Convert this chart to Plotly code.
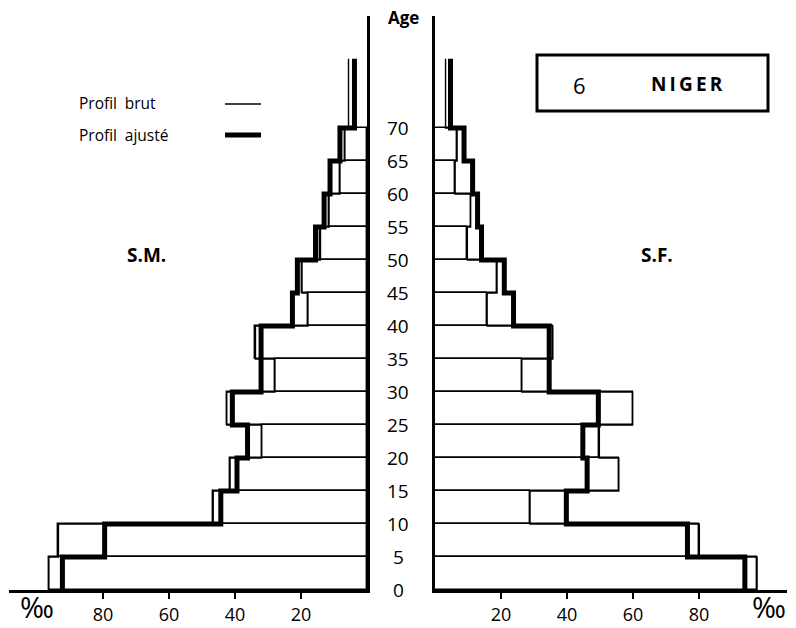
import plotly.graph_objects as go

# ---------------- data ----------------
age_start = [0, 5, 10, 15, 20, 25, 30, 35, 40, 45, 50, 55, 60, 65, 70]
age_top = 80.5            # drawn upper limit of open age group 70+
age_labels = [0, 5, 10, 15, 20, 25, 30, 35, 40, 45, 50, 55, 60, 65, 70]
x_ticks = [20, 40, 60, 80]

male_raw = [96.4, 93.5, 46.6, 41.5, 31.9, 42.5, 27.9, 33.8, 17.9, 19.7, 14.1, 11.5, 8.2, 6.7, 5.6]
male_adj = [92.3, 79.5, 44.3, 39.4, 36.2, 40.8, 32.1, 32.1, 22.6, 21.1, 15.6, 13.0, 11.2, 8.2, 3.8]
female_raw = [97.6, 80.1, 28.8, 55.7, 49.8, 59.9, 26.3, 35.7, 15.8, 18.8, 9.8, 10.8, 6.1, 6.7, 3.2]
female_adj = [93.9, 76.5, 39.8, 46.1, 44.8, 49.5, 34.6, 34.6, 23.8, 21.0, 14.1, 12.9, 11.4, 8.8, 4.7]

# ---------------- layout helpers ----------------
W, H = 796, 628
ML, MR, MT, MB = 9, 9, 16, 38
PW, PH = W - ML - MR, H - MT - MB


def px(x):
    return (x - ML) / PW


def py(y):
    return (H - MB - y) / PH


FONT = "Open Sans"
BLACK = "black"
THIN = 1.4
THICK = 5

fig = go.Figure()

centers = [a + 2.5 for a in age_start[:-1]]

for raw, adj, xa, ya in [(male_raw, male_adj, "x", "y"), (female_raw, female_adj, "x2", "y2")]:
    # raw profile as thin open rectangles
    fig.add_trace(go.Bar(
        x=raw[:-1], y=centers, orientation="h", width=5, base=0,
        marker=dict(color="rgba(0,0,0,0)", line=dict(color=BLACK, width=THIN)),
        xaxis=xa, yaxis=ya, showlegend=False, hoverinfo="skip"))
    # raw profile outline (including open group)
    fig.add_trace(go.Scatter(
        x=raw + [raw[-1]], y=age_start + [age_top], mode="lines",
        line=dict(color=BLACK, width=THIN, shape="vh"),
        xaxis=xa, yaxis=ya, showlegend=False, hoverinfo="skip"))
    # adjusted profile, thick outline
    fig.add_trace(go.Scatter(
        x=adj + [adj[-1]], y=age_start + [age_top], mode="lines",
        line=dict(color=BLACK, width=THICK, shape="vh"),
        xaxis=xa, yaxis=ya, showlegend=False, hoverinfo="skip"))

xscale = 3.3   # px per unit
yscale = 6.6   # px per year
left_max = (367 - ML) / xscale
right_max = (W - MR - 435) / xscale
y_max = PH / yscale

xcommon = dict(
    tickvals=x_ticks, ticks="outside", ticklen=6, tickwidth=2, tickcolor=BLACK,
    showline=True, linewidth=3, linecolor=BLACK, showgrid=False, zeroline=False,
    tickfont=dict(family=FONT, size=18, color=BLACK), ticklabelstandoff=0,
    automargin=False,
)
ycommon = dict(
    range=[0, y_max], showline=True, linewidth=3, linecolor=BLACK,
    showgrid=False, zeroline=False, showticklabels=False, ticks="",
    automargin=False,
)

fig.update_layout(
    width=W, height=H,
    margin=dict(l=ML, r=MR, t=MT, b=MB, autoexpand=False),
    paper_bgcolor="white", plot_bgcolor="white",
    barmode="overlay", bargap=0,
    xaxis=dict(domain=[0, px(367)], range=[left_max, 0], anchor="y", **xcommon),
    yaxis=dict(anchor="x", side="right", **ycommon),
    xaxis2=dict(domain=[px(435), 1], range=[0, right_max], anchor="y2", **xcommon),
    yaxis2=dict(anchor="x2", side="left", **ycommon),
    showlegend=False,
)


def label(x, y, text, size, anchor="center", **kw):
    return dict(x=px(x), y=py(y), xref="paper", yref="paper", text=text, showarrow=False,
                xanchor=anchor, yanchor="middle",
                font=dict(family=FONT, size=size, color=BLACK), **kw)


ann = []
for a in age_labels:
    ann.append(dict(x=px(398), y=a, xref="paper", yref="y", text=str(a), showarrow=False,
                    xanchor="center", yanchor="middle",
                    font=dict(family=FONT, size=19, color=BLACK)))

ann += [
    label(403, 18, "<b>Age</b>", 17),
    label(77, 103, "Profil\u2002brut", 15.5, anchor="left"),
    label(77, 135, "Profil\u2002ajusté", 15.5, anchor="left"),
    label(146, 255, "<b>S.M.</b>", 19),
    label(657, 255, "<b>S.F.</b>", 19),
    label(579, 85, "6", 22),
    label(687, 84, "<b>N\u2009I\u2009G\u2009E\u2009R</b>", 19),
    label(37, 606, "‰", 29),
    label(769, 606, "‰", 29),
]
fig.update_layout(annotations=ann)

shapes = [
    dict(type="line", xref="paper", yref="paper", x0=px(225), x1=px(261), y0=py(104), y1=py(104),
         line=dict(color=BLACK, width=1.5)),
    dict(type="line", xref="paper", yref="paper", x0=px(225), x1=px(261), y0=py(135), y1=py(135),
         line=dict(color=BLACK, width=5)),
    dict(type="rect", xref="paper", yref="paper", x0=px(537), x1=px(768), y0=py(111), y1=py(55),
         line=dict(color=BLACK, width=3)),
]
fig.update_layout(shapes=shapes)

fig.write_html("out.html", config={"displayModeBar": False},
               post_script="document.body.style.margin='0';")
